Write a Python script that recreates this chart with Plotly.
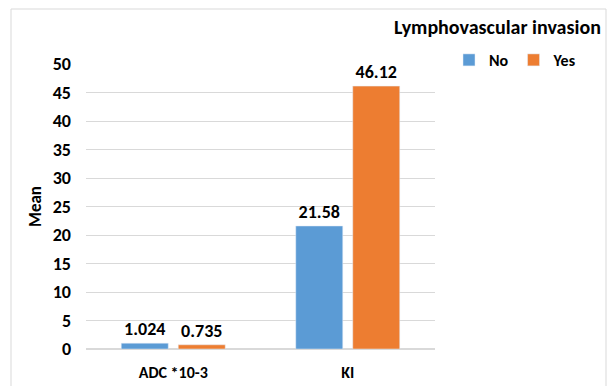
import plotly.graph_objects as go

categories = ["ADC *10-3", "KI"]
no_values = [1.024, 21.58]
yes_values = [0.735, 46.12]
no_labels = ["1.024", "21.58"]
yes_labels = ["0.735", "46.12"]
y_ticks = [0, 5, 10, 15, 20, 25, 30, 35, 40, 45, 50]

FONT = "Carlito, Calibri, Liberation Sans, Arial, sans-serif"
W, H = 608, 386
L, R, T, B = 86, 173, 64, 37
pw, ph = W - L - R, H - T - B


def px_to_paper_x(px):
    return (px - L) / pw


def px_to_paper_y(py):
    return (H - B - py) / ph


fig = go.Figure()
fig.add_trace(go.Bar(
    name="No", x=categories, y=no_values, marker_color="#5B9BD5",
    text=no_labels, textposition="outside", cliponaxis=False,
    textfont=dict(family=FONT, size=18, color="#000000"),
))
fig.add_trace(go.Bar(
    name="Yes", x=categories, y=yes_values, marker_color="#ED7D31",
    text=yes_labels, textposition="outside", cliponaxis=False,
    textfont=dict(family=FONT, size=18, color="#000000"),
))

fig.update_layout(
    width=W, height=H,
    margin=dict(l=L, r=R, t=T, b=B, autoexpand=False),
    paper_bgcolor="white", plot_bgcolor="white",
    barmode="group", bargap=0.347, bargroupgap=0.175,
    font=dict(family=FONT, size=16, color="#000000"),
    showlegend=True,
    legend=dict(
        orientation="h", x=px_to_paper_x(449), y=px_to_paper_y(43),
        xanchor="left", yanchor="top",
        font=dict(family=FONT, size=16, color="#000000", weight="bold"),
        itemwidth=30, tracegroupgap=0, bgcolor="rgba(0,0,0,0)",
    ),
    xaxis=dict(
        showgrid=False, showline=False, ticks="", ticklabelstandoff=12,
        automargin=False, tickfont=dict(family=FONT, size=16, weight="bold"),
    ),
    yaxis=dict(
        range=[0, 50], tickvals=y_ticks, showgrid=True, gridcolor="#D9D9D9",
        gridwidth=1, zeroline=True, zerolinecolor="#D9D9D9", showline=False,
        automargin=False, ticks="", ticklabelstandoff=14,
        tickfont=dict(family=FONT, size=18, weight="bold"),
        title=dict(text="Mean", font=dict(family=FONT, size=17, weight="bold"), standoff=6),
    ),
    annotations=[dict(
        text="<b>Lymphovascular invasion</b>", xref="paper", yref="paper",
        x=px_to_paper_x(603), y=px_to_paper_y(27), xanchor="right", yanchor="middle",
        showarrow=False, font=dict(family=FONT, size=20, color="#000000"),
    )],
    shapes=[dict(
        type="rect", xref="paper", yref="paper",
        x0=px_to_paper_x(11), x1=px_to_paper_x(606),
        y0=px_to_paper_y(395), y1=px_to_paper_y(9),
        line=dict(color="#D9D9D9", width=1), fillcolor="rgba(0,0,0,0)", layer="below",
    )],
)
fig.update_traces(textfont_weight="bold")

fig.write_html("out.html")
